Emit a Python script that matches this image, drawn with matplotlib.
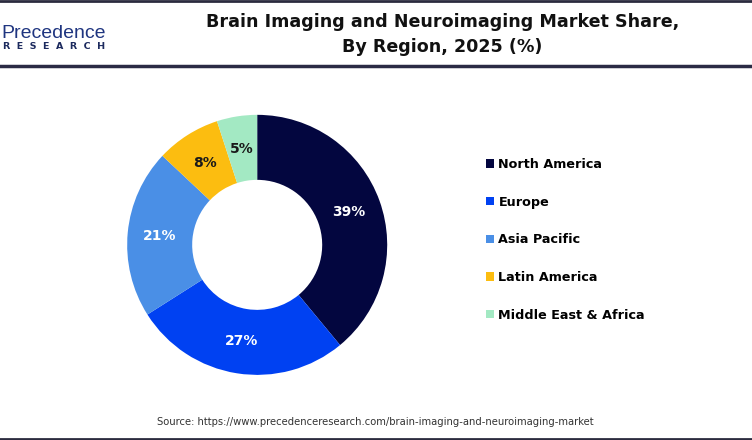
import matplotlib.pyplot as plt
from matplotlib.lines import Line2D
from matplotlib.patches import Patch

# market share by region, 2025 (%)
regions = ["North America", "Europe", "Asia Pacific", "Latin America", "Middle East & Africa"]
shares = [39, 27, 21, 8, 5]
colors = ["#03063f", "#0041f2", "#4a8fe6", "#fcbd10", "#a3e9c3"]
label_colors = ["white", "white", "white", "#1a1a1a", "#1a1a1a"]

fig = plt.figure(figsize=(7.52, 4.40), dpi=100)
fig.patch.set_facecolor("white")

# frame lines
fig.add_artist(Line2D([0, 1], [0.998, 0.998], color="#2b2b3f", lw=2))
fig.add_artist(Line2D([0, 1], [0.849, 0.849], color="#2b2b45", lw=2.5))
fig.add_artist(Line2D([0, 1], [0.003, 0.003], color="#2b2b3f", lw=2))

# logo text
fig.text(0.002, 0.925, "Precedence", fontsize=14, color="#1f3580",
         fontfamily="Liberation Sans", va="center", ha="left")
fig.text(0.004, 0.894, "R  E  S  E  A  R  C  H", fontsize=6.8, color="#1c2a5e",
         fontweight="bold", va="center", ha="left")

fig.text(0.588, 0.95, "Brain Imaging and Neuroimaging Market Share,",
         fontsize=12.6, fontweight="bold", ha="center", va="center", color="#111111")
fig.text(0.588, 0.893, "By Region, 2025 (%)",
         fontsize=12.6, fontweight="bold", ha="center", va="center", color="#111111")

ax = fig.add_axes([0.169, 0.148, 0.346, 0.591])
wedges, texts, autotexts = ax.pie(
    shares, colors=colors, startangle=90, counterclock=False,
    wedgeprops=dict(width=0.50, edgecolor="none"),
    autopct="%d%%", pctdistance=0.75,
    textprops=dict(fontsize=10, fontweight="bold"))
for t, c in zip(autotexts, label_colors):
    t.set_color(c)
ax.set_xlim(-1, 1)
ax.set_ylim(-1, 1)
ax.set_aspect("equal")
ax.axis("off")

handles = [Patch(facecolor=c, edgecolor="none") for c in colors]
fig.legend(handles, regions, loc="upper left", bbox_to_anchor=(0.631, 0.667),
           frameon=False, labelspacing=1.93,
           handlelength=0.62, handleheight=0.62, handletextpad=0.35,
           prop=dict(weight="bold", size=9.2))

fig.text(0.499, 0.041, "Source: https://www.precedenceresearch.com/brain-imaging-and-neuroimaging-market",
         fontsize=7.2, color="#333333", ha="center", va="center")

fig.savefig("out.png", dpi=100)
